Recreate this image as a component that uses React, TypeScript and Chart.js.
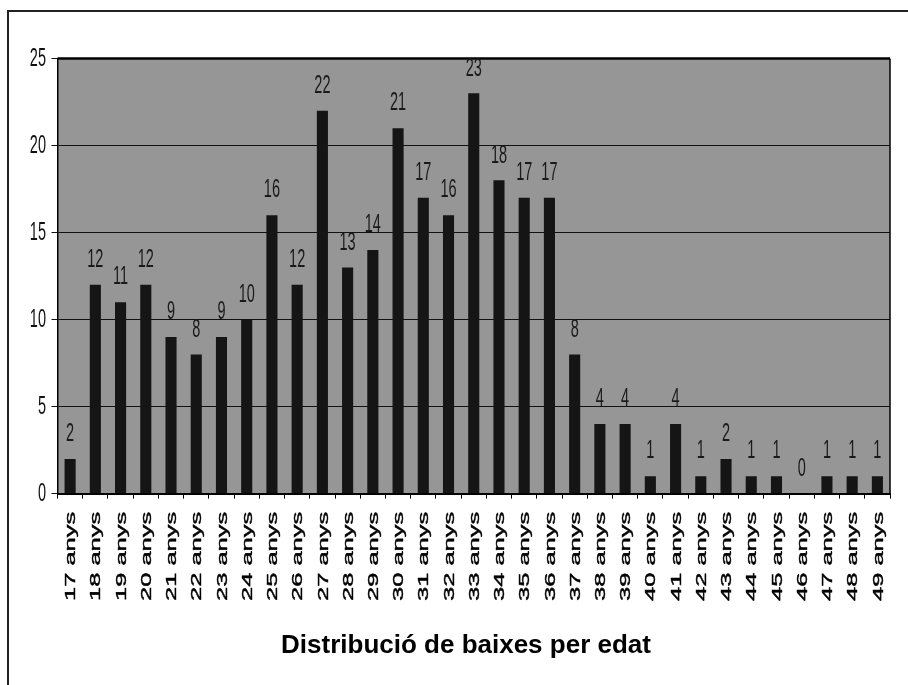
import React, { useEffect, useRef } from 'react';
import { Chart, registerables } from 'chart.js';

Chart.register(...registerables);

const categories = [
  '17 anys', '18 anys', '19 anys', '20 anys', '21 anys', '22 anys', '23 anys', '24 anys',
  '25 anys', '26 anys', '27 anys', '28 anys', '29 anys', '30 anys', '31 anys', '32 anys',
  '33 anys', '34 anys', '35 anys', '36 anys', '37 anys', '38 anys', '39 anys', '40 anys',
  '41 anys', '42 anys', '43 anys', '44 anys', '45 anys', '46 anys', '47 anys', '48 anys',
  '49 anys',
];
const counts = [2, 12, 11, 12, 9, 8, 9, 10, 16, 12, 22, 13, 14, 21, 17, 16, 23, 18, 17, 17, 8, 4, 4, 1, 4, 1, 2, 1, 1, 0, 1, 1, 1];
const yTicks = [0, 5, 10, 15, 20, 25];
const chartTitle = 'Distribució de baixes per edat';

const FONT = '"Liberation Sans", Arial, sans-serif';

const stretchedText = {
  id: 'stretchedText',
  beforeDraw(chart: any) {
    const { ctx, chartArea: a } = chart;
    ctx.save();
    ctx.fillStyle = '#969696';
    ctx.fillRect(a.left, a.top, a.right - a.left, a.bottom - a.top);
    ctx.restore();
  },
  afterDraw(chart: any) {
    const { ctx, chartArea: a, scales } = chart;
    ctx.save();
    // plot frame
    ctx.strokeStyle = '#000';
    ctx.lineWidth = 2.5;
    ctx.beginPath();
    ctx.moveTo(a.left, a.top);
    ctx.lineTo(a.right, a.top);
    ctx.stroke();
    ctx.lineWidth = 1.5;
    ctx.beginPath();
    ctx.moveTo(a.right, a.top);
    ctx.lineTo(a.right, a.bottom);
    ctx.stroke();

    ctx.fillStyle = '#111';
    // y tick labels
    ctx.font = `14.5px ${FONT}`;
    ctx.textAlign = 'right';
    ctx.textBaseline = 'middle';
    scales.y.ticks.forEach((t: any) => {
      const y = scales.y.getPixelForValue(t.value);
      ctx.save();
      ctx.translate(46, y);
      ctx.scale(1, 1.75);
      ctx.fillText(String(t.value), 0, 0);
      ctx.restore();
    });

    // x tick labels (rotated, stretched along baseline)
    ctx.font = `15px ${FONT}`;
    ctx.fillStyle = '#000';
    ctx.strokeStyle = '#000';
    ctx.lineWidth = 0.4;
    categories.forEach((lab, i) => {
      const x = scales.x.getPixelForValue(i);
      ctx.save();
      ctx.translate(x + 1, a.bottom + 18);
      ctx.rotate(-Math.PI / 2);
      ctx.scale(1.7, 1);
      ctx.textAlign = 'right';
      ctx.textBaseline = 'middle';
      ctx.fillText(lab, 0, 0);
      ctx.strokeText(lab, 0, 0);
      ctx.restore();
    });

    // data labels
    ctx.font = `14.5px ${FONT}`;
    ctx.fillStyle = '#1a1a1a';
    const meta = chart.getDatasetMeta(0);
    meta.data.forEach((bar: any, i: number) => {
      ctx.save();
      ctx.translate(bar.x, bar.y - 25);
      ctx.scale(1, 1.8);
      ctx.textAlign = 'center';
      ctx.textBaseline = 'middle';
      ctx.fillText(String(counts[i]), 0, 0);
      ctx.restore();
    });
    ctx.restore();
  },
};

export default function App() {
  const ref = useRef<HTMLCanvasElement | null>(null);

  useEffect(() => {
    if (!ref.current) return;
    const chart = new Chart(ref.current, {
      type: 'bar',
      data: {
        labels: categories,
        datasets: [
          {
            data: counts,
            backgroundColor: '#151515',
            borderWidth: 0,
            barPercentage: 0.44,
            categoryPercentage: 1,
          },
        ],
      },
      options: {
        responsive: false,
        animation: false,
        devicePixelRatio: 1,
        layout: { padding: { left: 42, right: 18, top: 58.5, bottom: 0 } },
        plugins: {
          legend: { display: false },
          tooltip: { enabled: false },
          title: {
            display: true,
            text: chartTitle,
            position: 'bottom',
            color: '#000',
            font: { family: FONT, size: 26, weight: 'bold' },
            padding: { top: 0, bottom: 24 },
          },
        },
        scales: {
          x: {
            grid: {
              drawOnChartArea: false,
              drawTicks: true,
              tickLength: 5,
              color: '#000',
              offset: true,
            },
            border: { display: true, color: '#000', width: 2 },
            ticks: { display: false },
            afterFit: (s: any) => {
              s.height = 136.1;
            },
          },
          y: {
            min: 0,
            max: 25,
            afterBuildTicks: (s: any) => {
              s.ticks = yTicks.map((v) => ({ value: v }));
            },
            grid: {
              color: '#111',
              lineWidth: 1,
              tickLength: 6,
              drawTicks: true,
            },
            border: { display: true, color: '#000', width: 1.5 },
            ticks: { display: false },
            afterFit: (s: any) => {
              s.width = 15.5;
            },
          },
        },
      },
      plugins: [stretchedText],
    });
    return () => chart.destroy();
  }, []);

  return (
    <div style={{ position: 'fixed', left: 0, top: 0, width: 908, height: 685, background: '#fff', overflow: 'hidden' }}>
      <div
        style={{
          position: 'absolute',
          left: 7,
          top: 10,
          width: 905,
          height: 680,
          borderLeft: '2px solid #222',
          borderTop: '2px solid #222',
          pointerEvents: 'none',
        }}
      />
      <canvas ref={ref} width={908} height={685} style={{ position: 'absolute', left: 0, top: 0, display: 'block' }} />
    </div>
  );
}
